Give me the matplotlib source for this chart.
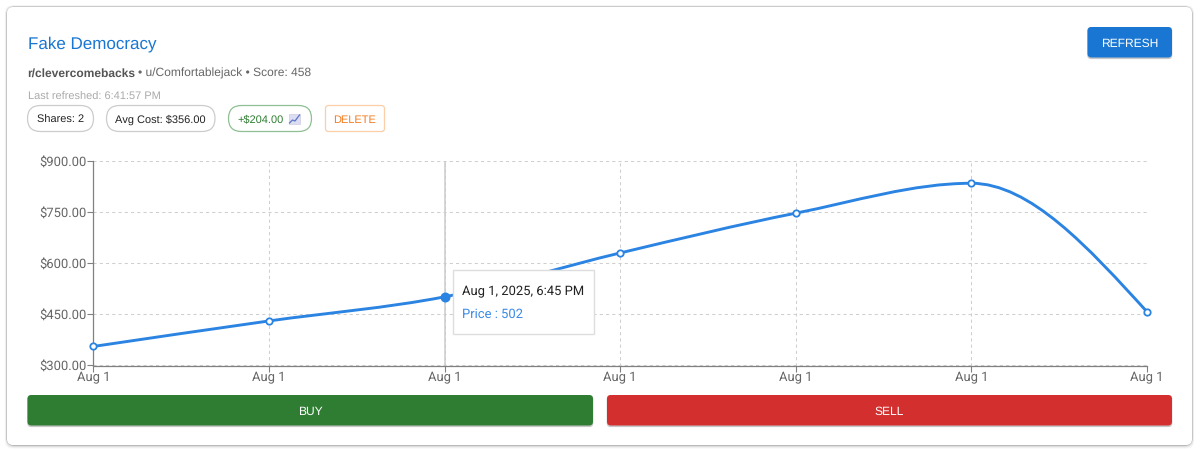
import numpy as np
import matplotlib
matplotlib.use("Agg")
import matplotlib.pyplot as plt
from matplotlib.patches import FancyBboxPatch, Rectangle, PathPatch
from matplotlib.path import Path

# ---- data ----
prices = [356, 431, 502, 631, 748, 836, 458]
x_labels = ["Aug 1"] * 7
y_ticks = [300, 450, 600, 750, 900]
y_labels = ["$300.00", "$450.00", "$600.00", "$750.00", "$900.00"]
active_index = 2
title = "Fake Democracy"
tooltip_date = "Aug 1, 2025, 6:45 PM"
tooltip_price = "Price : 502"

W, H = 1200, 450
UI = "Liberation Sans"
CHART = "Roboto"
BLUE = "#2b83e2"
plt.rcParams["text.hinting"] = "no_hinting"
plt.rcParams["text.hinting_factor"] = 1
px = lambda p: p * 72 / 100  # css px to points


def monotone_path(xs, ys):
    """Cubic path equal to a monotone-X curve through the points."""
    xs, ys = np.asarray(xs, float), np.asarray(ys, float)
    n = len(xs)
    h = np.diff(xs)
    s = np.diff(ys) / h
    t = np.zeros(n)
    for i in range(1, n - 1):
        p = (s[i - 1] * h[i] + s[i] * h[i - 1]) / (h[i - 1] + h[i])
        t[i] = (np.sign(s[i - 1]) + np.sign(s[i])) * min(abs(s[i - 1]), abs(s[i]), 0.5 * abs(p))
    t[0] = (3 * s[0] - t[1]) / 2
    t[-1] = (3 * s[-1] - t[-2]) / 2
    verts = [(xs[0], ys[0])]
    codes = [Path.MOVETO]
    for i in range(n - 1):
        d = h[i] / 3
        verts += [(xs[i] + d, ys[i] + d * t[i]), (xs[i + 1] - d, ys[i + 1] - d * t[i + 1]), (xs[i + 1], ys[i + 1])]
        codes += [Path.CURVE4] * 3
    return Path(verts, codes)


def pixel_axes(fig, z):
    a = fig.add_axes([0, 0, 1, 1], zorder=z)
    a.set_xlim(0, W)
    a.set_ylim(H, 0)
    a.axis("off")
    return a


def rrect(a, x0, y0, x1, y1, r, fc, ec="none", lw=0, z=2, alpha=None):
    a.add_patch(FancyBboxPatch((x0 + r, y0 + r), x1 - x0 - 2 * r, y1 - y0 - 2 * r,
                               boxstyle=f"round,pad={r},rounding_size={r}", fc=fc, ec=ec, lw=lw,
                               zorder=z, alpha=alpha, mutation_aspect=1))


fig = plt.figure(figsize=(W / 100, H / 100), dpi=100, facecolor="white")
bg = pixel_axes(fig, 0)
fg = pixel_axes(fig, 2)

# card with soft shadow
for off, alpha in [(3.5, .05), (2.5, .08), (1.5, .14), (0.8, .25)]:
    rrect(bg, 7 - off * .6, 7 - off * .5, 1192 + off * .6, 445 + off, 8, "#555555", z=1, alpha=alpha)
rrect(bg, 7, 7, 1192, 445, 6, "white", z=2)

# header text
bg.text(27.5, 48.5, title, color="#1976d2", fontsize=px(16.5), family=UI, va="baseline", zorder=3)
bg.text(27.5, 76.8, "r/clevercomebacks", color="#555555", fontsize=px(12), family=UI,
        weight="bold", va="baseline", zorder=3)
bg.text(138, 76.8, "• u/Comfortablejack • Score: 458", color="#666666", fontsize=px(12), family=UI,
        va="baseline", zorder=3)
bg.text(27.5, 100, "Last refreshed: 6:41:57 PM", color="#aaaaaa", fontsize=px(10.6), family=UI,
        va="baseline", zorder=3)

# chips
chips = [(27.5, 93.5, "Shares: 2", "#cccccc", "#222222", 11),
         (106.5, 215, "Avg Cost: $356.00", "#cccccc", "#222222", 11),
         (228.5, 311.5, "+$204.00", "#8fbf92", "#2e7d32", 11)]
for x0, x1, label, ec, col, fs in chips:
    rrect(bg, x0, 105.5, x1, 131.5, 13, "white", ec, 0.9, z=3)
    if label.startswith("+"):
        bg.text(237.5, 122.7, label, color=col, fontsize=px(fs), family=UI, va="baseline", zorder=4)
    else:
        bg.text((x0 + x1) / 2, 122.7, label, color=col, fontsize=px(fs), family=UI, va="baseline", ha="center", zorder=4)
# small chart glyph inside the profit chip
bg.add_patch(Rectangle((289, 114), 11, 10, fc="#dcdcf2", ec="#c4c4dc", lw=.4, zorder=4))
bg.plot([289.5, 292.5, 295, 299.5], [123, 120, 121, 115], color="#5a78c8", lw=.9, zorder=5)

rrect(bg, 325.5, 105.5, 384.5, 131.5, 3, "white", "#fbcfa8", 0.9, z=3)
bg.text(355, 122.7, "DELETE", color="#f57c1f", fontsize=px(11.4), family=UI, ha="center", va="baseline", zorder=4)

# buttons
def button(x0, y0, x1, y1, fc, label, fs):
    rrect(bg, x0 - .3, y0, x1 + .3, y1 + 1.6, 4, "#999999", z=3, alpha=.55)
    rrect(bg, x0, y0, x1, y1, 4, fc, z=4)
    bg.text((x0 + x1) / 2, (y0 + y1) / 2 + 4.3, label, color="white", fontsize=px(fs), family=UI,
            ha="center", va="baseline", zorder=5)

button(1087.5, 27, 1172, 57.5, "#1976d2", "REFRESH", 12.2)
button(27.5, 395, 593, 425.5, "#2e7d32", "BUY", 12.2)
button(607, 395, 1172, 425.5, "#d32f2f", "SELL", 12.2)

# chart
L, R, T, B = 93.3, 1147, 161.5, 365.5
ax = fig.add_axes([L / W, 1 - B / H, (R - L) / W, (B - T) / H], zorder=1)
ax.patch.set_alpha(0)
xs = np.arange(len(prices))
ax.set_xlim(0, len(prices) - 1)
ax.set_ylim(300, 900)
ax.set_xticks(xs)
ax.set_xticklabels(x_labels)
ax.set_yticks(y_ticks)
ax.set_yticklabels(y_labels)
ax.grid(True, color="#cfcfcf", lw=0.75, ls=(0, (3, 3)))
ax.set_axisbelow(True)
for s in ("top", "right"):
    ax.spines[s].set_visible(False)
for s in ("left", "bottom"):
    ax.spines[s].set_color("#808080")
    ax.spines[s].set_linewidth(0.9)
ax.tick_params(axis="x", length=px(6), width=.8, color="#808080", labelcolor="#666666", pad=0, labelsize=px(13.3))
ax.tick_params(axis="y", length=px(6), width=.8, color="#808080", labelcolor="#666666", pad=0.5, labelsize=px(13.3))
for lab in ax.get_xticklabels() + ax.get_yticklabels():
    lab.set_family(CHART)
ax.axvline(xs[active_index], color="#cccccc", lw=1.1, zorder=1.5)
ax.add_patch(PathPatch(monotone_path(xs, prices), fc="none", ec=BLUE, lw=px(2.9), zorder=3, clip_on=False))
others = [i for i in xs if i != active_index]
ax.plot(xs[others], np.array(prices)[others], ls="none", marker="o", ms=px(6.4), mfc="white", mec=BLUE,
        mew=px(1.8), zorder=4, clip_on=False)
ax.plot(xs[active_index], prices[active_index], ls="none", marker="o", ms=px(10), mfc=BLUE, mec=BLUE,
        mew=0, zorder=5, clip_on=False)

# tooltip
fg.add_patch(Rectangle((452.9, 270), 141.3, 64, fc="white", ec="#dddddd", lw=1, zorder=3))
fg.text(462.2, 295, tooltip_date, color="#222222", fontsize=px(13.3), family=CHART, va="baseline", zorder=4)
fg.text(462.2, 318.3, tooltip_price, color="#3a8be6", fontsize=px(13.3), family=CHART, va="baseline", zorder=4)

fig.savefig("out.png", dpi=100)
